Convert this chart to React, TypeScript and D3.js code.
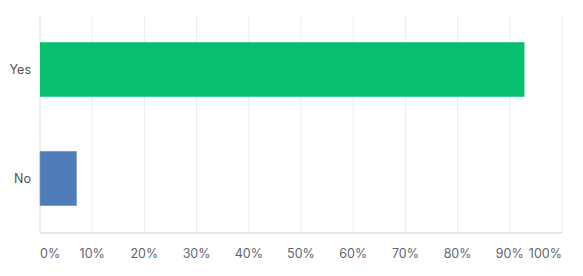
import React from "react";
import * as d3 from "d3";

const categories = ["Yes", "No"];
const values = [92.8, 7.0];
const colors = ["#06bf70", "#4f7db9"];
const ticks = [0, 10, 20, 30, 40, 50, 60, 70, 80, 90, 100];

export default function App() {
  const W = 583, H = 276;
  const left = 40, right = 562, top = 15, bottom = 233;
  const x = d3.scaleLinear().domain([0, 100]).range([left, right]);
  const y = d3.scaleBand().domain(categories).range([top, bottom]).paddingInner(0.5).paddingOuter(0.25);
  const font = "Inter, 'Noto Sans', sans-serif";
  return (
    <svg width={W} height={H} style={{ position: "absolute", left: 0, top: 0 }}>
      {ticks.slice(1).map((t) => (
        <line key={t} x1={x(t)} x2={x(t)} y1={top} y2={bottom} stroke="#ebebeb" strokeWidth={1} />
      ))}
      <line x1={left} x2={left} y1={top} y2={bottom} stroke="#e3e3e3" strokeWidth={1.2} />
      <line x1={left} x2={right} y1={bottom} y2={bottom} stroke="#dcdcdc" strokeWidth={1.5} />
      {categories.map((c, i) => (
        <rect key={c} x={x(0)} y={y(c)} width={x(values[i]) - x(0)} height={y.bandwidth()}
          fill={colors[i]} stroke={i === 1 ? "#7d9fce" : "none"} strokeWidth={0.6} />
      ))}
      {categories.map((c) => (
        <text key={c} x={31} y={(y(c) as number) + y.bandwidth() / 2} textAnchor="end" dominantBaseline="central"
          fontFamily={font} fontSize={12.5} fill="#545454">{c}</text>
      ))}
      {ticks.map((t, i) => (
        <text key={t} x={x(t)} y={253}
          textAnchor={i === 0 ? "start" : i === ticks.length - 1 ? "end" : "middle"} dominantBaseline="central"
          fontFamily={font} fontSize={12.5} fill="#5f6570">{t}%</text>
      ))}
    </svg>
  );
}
